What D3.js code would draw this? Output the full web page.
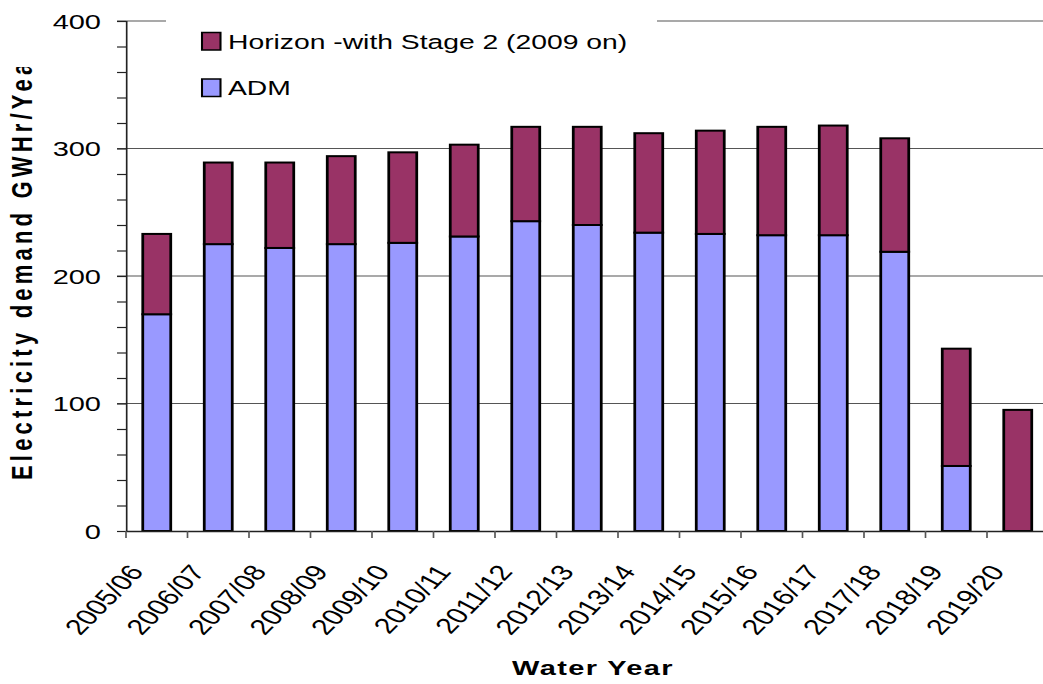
<!DOCTYPE html>
<html>
<head>
<meta charset="utf-8">
<script src="https://cdn.jsdelivr.net/npm/d3@7"></script>
<style>
  body { margin: 0; background: #fff; }
  text { font-family: "Liberation Sans", Arial, sans-serif; }
</style>
</head>
<body>
<div id="chart"></div>
<script>
// Data
const years = ["2005/06", "2006/07", "2007/08", "2008/09", "2009/10", "2010/11", "2011/12",
  "2012/13", "2013/14", "2014/15", "2015/16", "2016/17", "2017/18", "2018/19", "2019/20"];
const adm = [170, 225, 222, 225, 226, 231, 243, 240, 234, 233, 232, 232, 219, 51, 0];
const horizon = [63, 64, 67, 69, 71, 72, 74, 77, 78, 81, 85, 86, 89, 92, 95];
const yTicks = [0, 100, 200, 300, 400];

const seriesNames = ["Horizon -with Stage 2 (2009 on)", "ADM"];
const colors = { horizon: "#993366", adm: "#9999FF" };

// The original is a wide-stretched picture, so draw in a narrower space and stretch it
const SX = 1.38;
const width = 1043, height = 684;
const margin = { left: 126, right: 1048.5, top: 21, bottom: 531 }; // in screen px

const svg = d3.select("#chart").append("svg")
  .attr("width", width)
  .attr("height", height);

const g = svg.append("g").attr("transform", `scale(${SX},1)`);

// Scales (x in stretched-space units)
const x = d3.scaleBand().domain(years)
  .range([margin.left / SX, margin.right / SX])
  .padding(0);

const y = d3.scaleLinear().domain([0, 400]).range([margin.bottom, margin.top]);

const barW = x.bandwidth() * 0.455;
const axisX = margin.left / SX;
const rightEnd = width / SX;

// Gridlines
g.append("g").selectAll("line")
  .data(yTicks.slice(1))
  .join("line")
  .attr("x1", axisX - 6.5)
  .attr("x2", rightEnd)
  .attr("y1", d => y(d))
  .attr("y2", d => y(d))
  .attr("stroke", "#555")
  .attr("stroke-width", 1.2);

// Stacked bars
const rows = years.map((yr, i) => ({ year: yr, adm: adm[i], horizon: horizon[i] }));
const stack = d3.stack().keys(["adm", "horizon"])(rows);

g.append("g").selectAll("g")
  .data(stack)
  .join("g")
  .attr("fill", d => colors[d.key])
  .selectAll("rect")
  .data(d => d.filter(s => s[1] - s[0] > 0))
  .join("rect")
  .attr("x", d => x(d.data.year) + (x.bandwidth() - barW) / 2)
  .attr("y", d => y(d[1]))
  .attr("width", barW)
  .attr("height", d => y(d[0]) - y(d[1]))
  .attr("stroke", "#000")
  .attr("stroke-width", 2);

// Legend (white box hides the top gridline behind it)
const legend = g.append("g");
legend.append("rect")
  .attr("x", 166 / SX).attr("y", 8)
  .attr("width", (657 - 166) / SX).attr("height", 98)
  .attr("fill", "#fff");

const legItems = [
  { name: seriesNames[0], color: colors.horizon, y: 32.5 },
  { name: seriesNames[1], color: colors.adm, y: 79 }
];
legItems.forEach(it => {
  legend.append("rect")
    .attr("x", 202 / SX).attr("y", it.y)
    .attr("width", 18.5 / SX).attr("height", 17.5)
    .attr("fill", it.color)
    .attr("stroke", "#000")
    .attr("stroke-width", 1.5);
  legend.append("text")
    .attr("x", 228 / SX).attr("y", it.y + 16.5)
    .attr("font-size", 20.5)
    .attr("fill", "#000")
    .text(it.name);
});

// Y axis
const yAxis = g.append("g").attr("transform", `translate(${axisX},0)`)
  .call(d3.axisLeft(y).tickValues(d3.range(0, 401, 20)).tickSize(6.5).tickFormat(""));
yAxis.select(".domain").attr("stroke", "#222").attr("stroke-width", 1.2);
yAxis.selectAll(".tick line").attr("stroke", "#222").attr("stroke-width", 1.2);

g.append("g").selectAll("text")
  .data(yTicks)
  .join("text")
  .attr("x", 101 / SX)
  .attr("y", d => y(d))
  .attr("dy", "0.36em")
  .attr("text-anchor", "end")
  .attr("font-size", 21)
  .attr("fill", "#000")
  .text(d => d);

// X axis
const xAxis = g.append("g").attr("transform", `translate(0,${y(0)})`)
  .call(d3.axisBottom(x).tickSize(0).tickFormat(""));
xAxis.select(".domain").attr("stroke", "#222").attr("stroke-width", 1.5);

g.append("g").selectAll("line")
  .data(years)
  .join("line")
  .attr("x1", d => x(d))
  .attr("x2", d => x(d))
  .attr("y1", y(0))
  .attr("y2", y(0) + 7)
  .attr("stroke", "#555")
  .attr("stroke-width", 1.2);

g.append("g").selectAll("text")
  .data(years)
  .join("text")
  .attr("transform", d => `translate(${x(d) + x.bandwidth() / 2 - 12 / SX},572) rotate(-54)`)
  .attr("text-anchor", "end")
  .attr("font-size", 22)
  .attr("fill", "#000")
  .text(d => d);

// Axis titles
g.append("text")
  .attr("x", 593 / SX)
  .attr("y", 675)
  .attr("text-anchor", "middle")
  .attr("font-size", 21)
  .attr("font-weight", "bold")
  .attr("letter-spacing", 1)
  .text("Water Year");

svg.append("clipPath").attr("id", "ytclip")
  .append("rect").attr("x", 0).attr("y", 67).attr("width", 60).attr("height", 500);

g.append("g").attr("clip-path", "url(#ytclip)")
  .append("text")
  .attr("transform", `translate(${32 / SX},480) rotate(-90)`)
  .attr("font-size", 22)
  .attr("font-weight", "bold")
  .attr("letter-spacing", 4.2)
  .text("Electricity demand GWHr/Year");
</script>
</body>
</html>
